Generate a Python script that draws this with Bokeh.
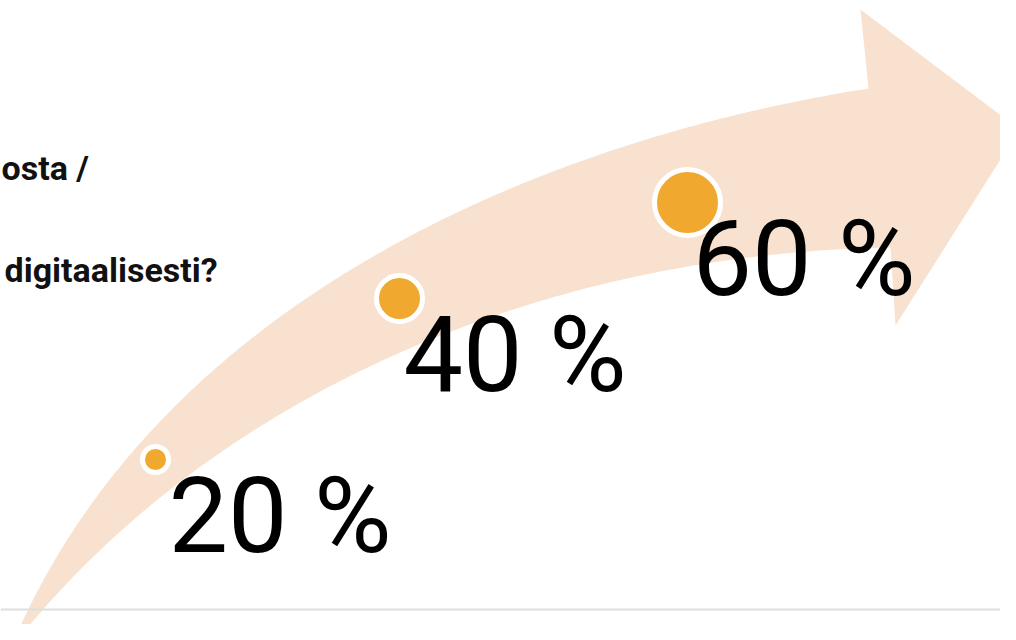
import numpy as np
from bokeh.plotting import figure
from bokeh.models import Range1d, Span, ColumnDataSource
from bokeh.core.properties import value
from bokeh.embed import file_html
from bokeh.resources import INLINE

# ---- data ----
labels = ["20 %", "40 %", "60 %"]
shares = [20, 40, 60]
question_lines = ["osta /", "digitaalisesti?"]

# ---- layout (screen-pixel coordinates) ----
dot_x = [155, 399, 687]
dot_y = [459, 298, 202]
label_x = [168, 403, 692]

ARROW = "#F8E2CF"
DOT = "#F0A82E"


def fit_bezier(pts, n=240):
    pts = np.array(pts, float)
    d = np.r_[0, np.cumsum(np.hypot(*np.diff(pts, axis=0).T))]
    t = d / d[-1]
    P0, P3 = pts[0], pts[-1]
    b0 = (1 - t) ** 3
    b1 = 3 * t * (1 - t) ** 2
    b2 = 3 * t ** 2 * (1 - t)
    b3 = t ** 3
    A = np.c_[b1, b2]
    R = pts - np.outer(b0, P0) - np.outer(b3, P3)
    P1, P2 = np.linalg.lstsq(A, R, rcond=None)[0]
    tt = np.linspace(0, 1, n)[:, None]
    return (1 - tt) ** 3 * P0 + 3 * tt * (1 - tt) ** 2 * P1 + 3 * tt ** 2 * (1 - tt) * P2 + tt ** 3 * P3


upper = fit_bezier([(10, 648), (25, 610), (50, 563), (92, 500), (130, 460), (163, 420),
                    (197, 380), (240, 345), (300, 300), (333, 280), (387, 250), (500, 193),
                    (650, 137), (760, 110), (868, 88)])
lower = fit_bezier([(10, 648), (37, 610), (100, 552), (163, 500), (240, 437), (333, 380),
                    (400, 353), (450, 328), (567, 296), (733, 260), (890, 247)])
head = np.array([(860, 9), (1019, 129), (895, 325)], float)
poly = np.vstack([upper, head, lower[::-1]])

p = figure(width=1000, height=624, output_backend="svg", toolbar_location=None,
           x_range=Range1d(0, 1000), y_range=Range1d(624, 0),
           min_border=0, x_axis_location=None, y_axis_location=None)
p.grid.visible = False
p.outline_line_color = None
p.background_fill_color = "white"
p.border_fill_color = "white"

p.patch(poly[:, 0], poly[:, 1], fill_color=ARROW, line_color=None)

p.add_layout(Span(location=609, dimension="width", line_color="#DEDEDE", line_width=2))

src = ColumnDataSource(dict(x=dot_x, y=dot_y, lx=label_x,
                            size=[s + 6 for s in shares], label=labels))
p.scatter("x", "y", size="size", source=src, fill_color=DOT, line_color="white", line_width=5)

p.text("lx", "y", text="label", source=src, y_offset=56,
       text_font=value("Roboto"), text_font_size="106px", text_color="black",
       text_align="left", text_baseline="alphabetic")

p.text(x=[1, 4], y=[167, 269], text=question_lines, text_font=value("Roboto"),
       text_font_size="34px", text_font_style="bold", text_color="#111111",
       text_align="left", text_baseline="alphabetic")

open("out.html", "w").write(file_html(p, INLINE))
